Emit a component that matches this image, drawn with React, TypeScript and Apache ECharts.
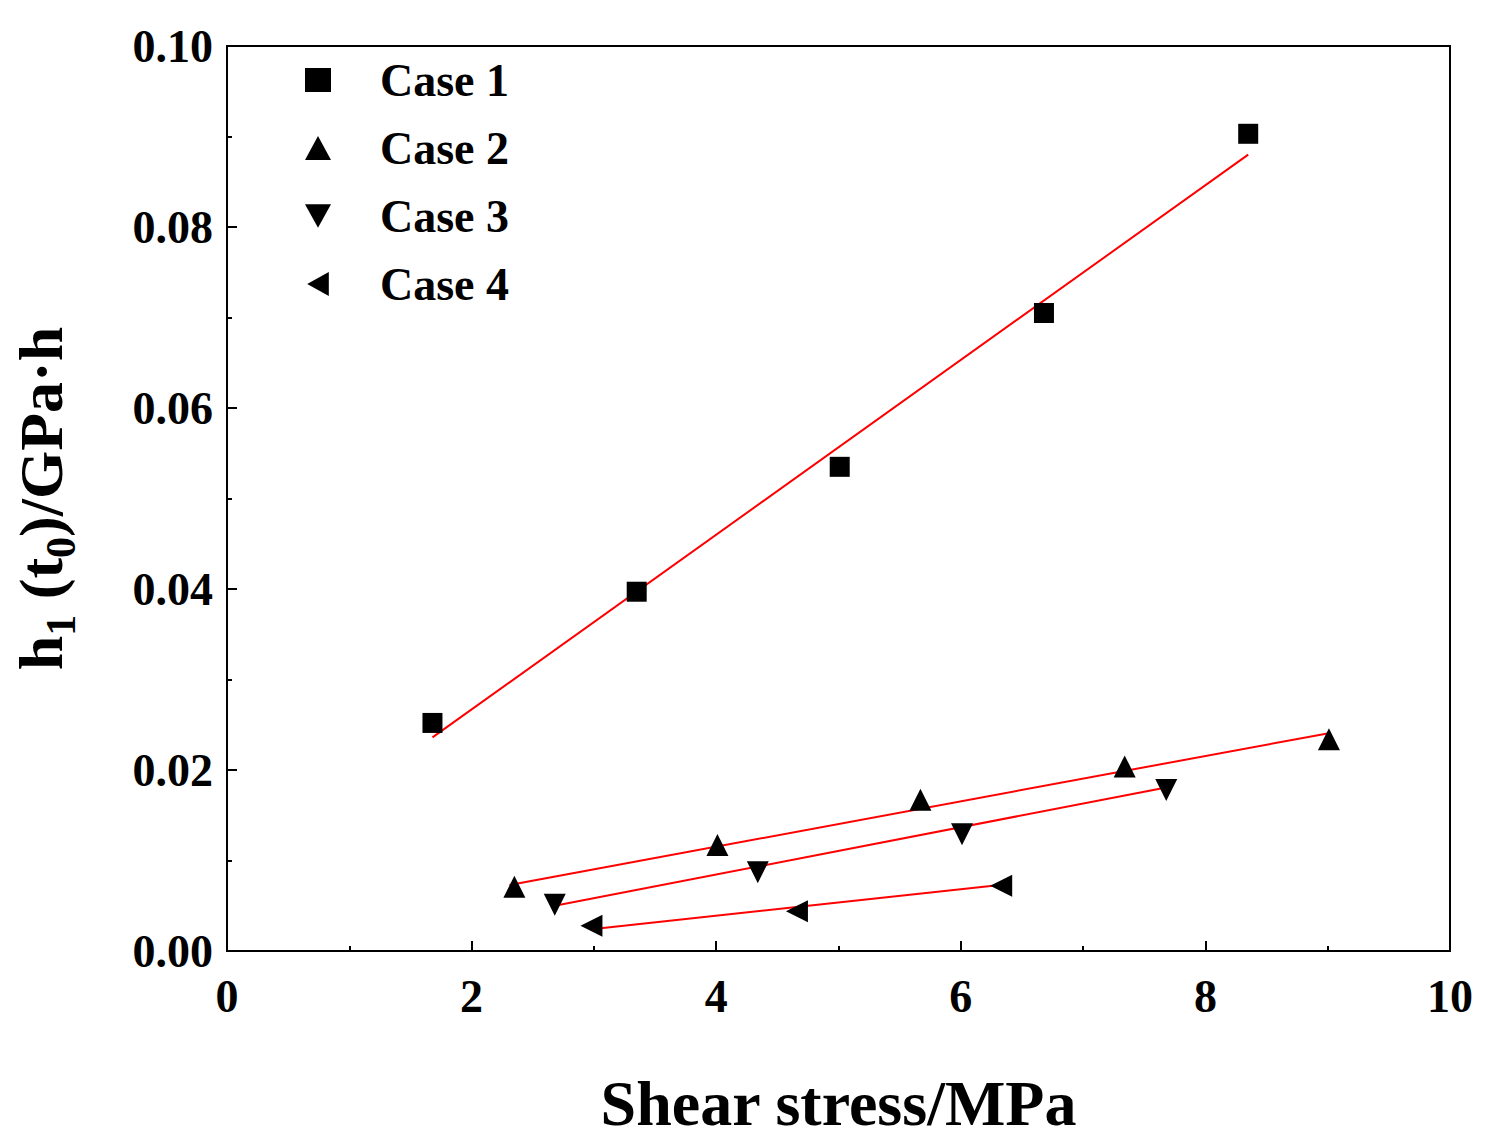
import { useEffect, useRef } from "react";
import * as echarts from "echarts";

const case1 = [[1.68, 0.0252], [3.35, 0.0397], [5.01, 0.0535], [6.68, 0.0705], [8.35, 0.0903]];
const case2 = [[2.35, 0.0071], [4.01, 0.0117], [5.67, 0.0167], [7.34, 0.0204], [9.01, 0.0234]];
const case3 = [[2.68, 0.0051], [4.34, 0.0087], [6.01, 0.0129], [7.68, 0.0178]];
const case4 = [[2.98, 0.0028], [4.66, 0.0044], [6.33, 0.0072]];
const fit1 = [[1.68, 0.0236], [8.35, 0.088]];
const fit2 = [[2.31, 0.0073], [9.02, 0.0241]];
const fit3 = [[2.68, 0.005], [7.69, 0.0181]];
const fit4 = [[2.98, 0.0024], [6.32, 0.0073]];

const FONT = "Liberation Serif";
const DOWN = "path://M0,0 L10,0 L5,9 Z";
const LEFT = "path://M0,5 L9,0 L9,10 Z";

export default function App() {
    const ref = useRef<HTMLDivElement>(null);
    useEffect(() => {
        if (!ref.current) return;
        const chart = echarts.init(ref.current, undefined, { renderer: "svg" });
        const scatter = (name: string, data: number[][], symbol: string, size = 22) => ({
            name, type: "scatter", data, symbol, symbolSize: size,
            itemStyle: { color: "#000", opacity: 1 }
        });
        const fit = (data: number[][]) => ({
            type: "line", data, symbol: "none", lineStyle: { color: "#ff0000", width: 2 }, z: 1
        });
        const axisCommon = {
            axisLine: { lineStyle: { color: "#000", width: 2 } },
            axisTick: { inside: true, length: 10, lineStyle: { color: "#000", width: 2 } },
            minorTick: { show: true, splitNumber: 2, length: 5, lineStyle: { color: "#000", width: 2 } },
            splitLine: { show: false },
            axisLabel: { color: "#000", fontFamily: FONT, fontWeight: "bold", fontSize: 46 }
        };
        chart.setOption({
            animation: false,
            backgroundColor: "#fff",
            grid: { left: 227, right: 37, top: 46, bottom: 197, show: true, borderColor: "#000", borderWidth: 2 },
            legend: {
                data: [
                    { name: "Case 1", icon: "rect", itemStyle: { opacity: 1 } },
                    { name: "Case 2", icon: "triangle", itemStyle: { opacity: 1 } },
                    { name: "Case 3", icon: DOWN, itemStyle: { opacity: 1 } },
                    { name: "Case 4", icon: LEFT, itemStyle: { opacity: 1 } }
                ],
                orient: "vertical", left: 300, top: 52, itemGap: 22, itemWidth: 26, itemHeight: 24,
                textStyle: { color: "#000", fontFamily: FONT, fontWeight: "bold", fontSize: 46, padding: [0, 0, 0, 44] }
            },
            xAxis: {
                type: "value", min: 0, max: 10, interval: 2, ...axisCommon,
                axisLabel: { ...axisCommon.axisLabel, margin: 22 },
                name: "Shear stress/MPa", nameLocation: "middle", nameGap: 120,
                nameTextStyle: { color: "#000", fontFamily: FONT, fontWeight: "bold", fontSize: 64 }
            },
            yAxis: {
                type: "value", min: 0, max: 0.1, interval: 0.02, ...axisCommon,
                axisLabel: { ...axisCommon.axisLabel, margin: 14, formatter: (v: number) => v.toFixed(2) },
                name: "{a|h}{s|1}{a| (t}{s|0}{a|)/GPa·h}", nameLocation: "middle", nameGap: 145,
                nameTextStyle: {
                    rich: {
                        a: { color: "#000", fontFamily: FONT, fontWeight: "bold", fontSize: 62 },
                        s: { color: "#000", fontFamily: FONT, fontWeight: "bold", fontSize: 42, padding: [40, 0, 0, 0] }
                    }
                }
            },
            series: [
                fit(fit1), fit(fit2), fit(fit3), fit(fit4),
                scatter("Case 1", case1, "rect", 20),
                scatter("Case 2", case2, "triangle"),
                scatter("Case 3", case3, DOWN),
                scatter("Case 4", case4, LEFT)
            ]
        });
        return () => chart.dispose();
    }, []);
    return <div ref={ref} style={{ position: "fixed", left: 0, top: 0, width: 1487, height: 1148 }} />;
}
